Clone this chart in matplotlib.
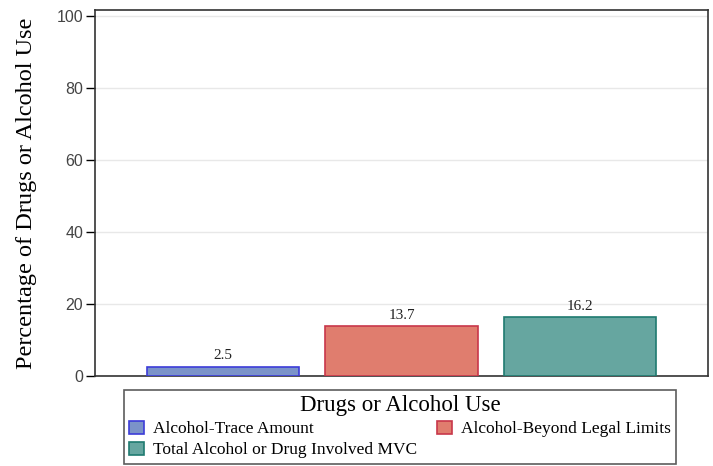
import matplotlib
matplotlib.use("Agg")
import matplotlib.pyplot as plt
from matplotlib.patches import Patch

categories = ["Alcohol-Trace Amount", "Alcohol-Beyond Legal Limits", "Total Alcohol or Drug Involved MVC"]
values = [2.5, 13.7, 16.2]
fills = ["#7b93c9", "#e07d6e", "#66a6a0"]
edges = ["#3c3cd8", "#c8374a", "#1f7a70"]
yticks = [0, 20, 40, 60, 80, 100]

plt.rcParams["font.family"] = ["Liberation Serif", "DejaVu Serif"]

fig = plt.figure(figsize=(7.13, 4.66), dpi=100)
ax = fig.add_axes([0.1332, 0.1938, 0.8598, 0.7847])

x = list(range(len(values)))
ax.bar(x, values, width=0.855, color=fills, edgecolor=edges, linewidth=1.2, zorder=3)
for xi, v in zip(x, values):
    ax.text(xi, v + 1.2, f"{v}", ha="center", va="bottom", fontsize=11, color="#222222")

ax.set_xlim(-0.72, 2.72)
ax.set_ylim(0, 101.7)
ax.set_yticks(yticks)
ax.tick_params(axis="y", length=6.5, width=1, labelsize=11.5, labelcolor="#444444", pad=2)
for lab in ax.get_yticklabels():
    lab.set_family("Liberation Sans")
ax.set_xticks([])
ax.grid(axis="y", color="#e8e8e8", linewidth=1, zorder=0)
for s in ax.spines.values():
    s.set_color("#333333")
    s.set_linewidth(1.2)
ax.set_ylabel("Percentage of Drugs or Alcohol Use", fontsize=17.5, labelpad=14)

handles = [Patch(facecolor=fills[i], edgecolor=edges[i], linewidth=1.2, label=categories[i]) for i in (0, 2, 1)]
leg = fig.legend(handles=handles, ncol=2, loc="lower left",
                 bbox_to_anchor=(124 / 713, 2.5 / 466), title="Drugs or Alcohol Use",
                 fontsize=12.5, title_fontsize=16.5, frameon=True, fancybox=False,
                 edgecolor="#333333", handlelength=0.86, handleheight=0.8, handletextpad=0.52,
                 borderpad=0.3, labelspacing=0.25, columnspacing=1.15, borderaxespad=0)
leg.get_frame().set_linewidth(1.2)

fig.savefig("out.png", dpi=100)
